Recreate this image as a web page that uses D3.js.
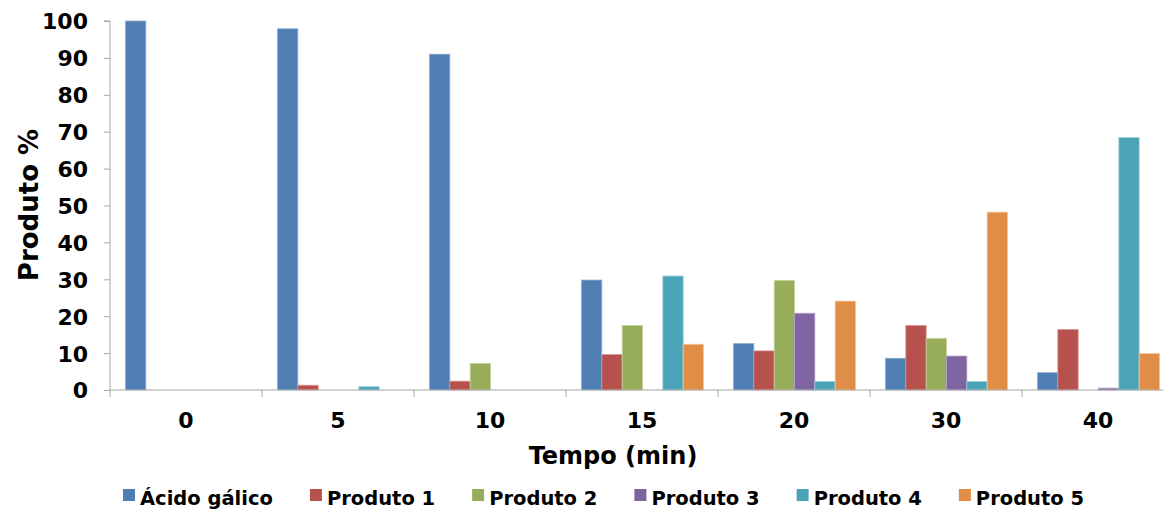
<!DOCTYPE html>
<html>
<head>
<meta charset="utf-8">
<script src="https://cdn.jsdelivr.net/npm/d3@7"></script>
<style>
  html, body { margin: 0; padding: 0; background: #fff; }
  svg { display: block; }
  text { font-family: "DejaVu Sans", sans-serif; font-weight: bold; fill: #000; }
</style>
</head>
<body>
<svg id="chart" width="1163" height="511"></svg>
<script>
// Sampling times (min)
const categories = ["0", "5", "10", "15", "20", "30", "40"];

// Relative amounts (%) at each time
const acidoGalico = [100, 97.9, 91.0, 29.8, 12.6, 8.6, 4.7];
const produto1 = [0, 1.3, 2.4, 9.6, 10.6, 17.5, 16.4];
const produto2 = [0, 0, 7.2, 17.5, 29.7, 14.0, 0];
const produto3 = [0, 0, 0, 0, 20.8, 9.2, 0.5];
const produto4 = [0, 0.9, 0, 30.9, 2.3, 2.3, 68.4];
const produto5 = [0, 0, 0, 12.4, 24.1, 48.2, 9.9];

const seriesNames = ["Ácido gálico", "Produto 1", "Produto 2", "Produto 3", "Produto 4", "Produto 5"];
const seriesValues = [acidoGalico, produto1, produto2, produto3, produto4, produto5];
const seriesColors = ["#4F7EB3", "#B7514E", "#97AD5A", "#7E64A0", "#4BA3B8", "#E08D47"];
const seriesStrokes = ["#8FAED3", "#D99593", "#C4D59E", "#B1A0C7", "#9CD0DE", "#F6C49B"];

const yTicks = [0, 10, 20, 30, 40, 50, 60, 70, 80, 90, 100];

const svg = d3.select("#chart");
const axisColor = "#A6A6A6";

const plotLeft = 110, bandW = 152, y0 = 390, y100 = 21;

const x = d3.scaleBand()
  .domain(categories)
  .range([plotLeft, plotLeft + bandW * categories.length])
  .paddingInner(0).paddingOuter(0);

const xInner = d3.scaleBand()
  .domain(seriesNames)
  .range([15.5, x.bandwidth() - 14.5])
  .padding(0);

const y = d3.scaleLinear().domain([0, 100]).range([y0, y100]);

// Bars
const groups = svg.append("g").selectAll("g")
  .data(seriesNames)
  .join("g")
  .attr("fill", (d, i) => seriesColors[i])
  .attr("stroke", (d, i) => seriesStrokes[i])
  .attr("stroke-width", 0.8);

groups.selectAll("rect")
  .data((name, i) => seriesValues[i].map((v, j) => ({ name, cat: categories[j], v })))
  .join("rect")
  .filter(d => d.v > 0)
  .attr("x", d => x(d.cat) + xInner(d.name))
  .attr("width", xInner.bandwidth())
  .attr("y", d => y(d.v))
  .attr("height", d => y(0) - y(d.v));

// Y axis
const yAxis = svg.append("g")
  .attr("transform", `translate(${plotLeft},0)`)
  .call(d3.axisLeft(y).tickValues(yTicks).tickSize(6).tickPadding(16).tickFormat(d3.format("d")));
yAxis.select(".domain").attr("stroke", axisColor).attr("d", `M-6,${y100}H0V${y0}`);
yAxis.selectAll(".tick line").attr("stroke", axisColor);
yAxis.selectAll(".tick text")
  .style("font-size", "22px")
  .attr("fill", "#000")
  .attr("dy", "0.36em");

// X axis
const xAxis = svg.append("g")
  .attr("transform", `translate(0,${y0})`)
  .call(d3.axisBottom(x).tickSize(0).tickPadding(22));
xAxis.select(".domain").attr("stroke", axisColor).attr("d", `M${plotLeft},0H1163`);
xAxis.selectAll(".tick text").style("font-size", "22px").attr("fill", "#000");

// Band separators on the x axis
svg.append("g").selectAll("line")
  .data(categories.concat(["end"]))
  .join("line")
  .attr("x1", (d, i) => plotLeft + i * x.step())
  .attr("x2", (d, i) => plotLeft + i * x.step())
  .attr("y1", y0)
  .attr("y2", y0 + 7)
  .attr("stroke", axisColor);

// Axis titles
svg.append("text")
  .attr("transform", "translate(38,205) rotate(-90)")
  .attr("text-anchor", "middle")
  .style("font-size", "26px")
  .text("Produto %");

svg.append("text")
  .attr("x", 613)
  .attr("y", 464)
  .attr("text-anchor", "middle")
  .style("font-size", "24px")
  .text("Tempo (min)");

// Legend
const legend = svg.append("g");
let lx = 123;
seriesNames.forEach((name, i) => {
  const g = legend.append("g").attr("transform", `translate(${lx},0)`);
  g.append("rect")
    .attr("x", 0).attr("y", 489)
    .attr("width", 12).attr("height", 12)
    .attr("fill", seriesColors[i]);
  const t = g.append("text")
    .attr("x", 17).attr("y", 505)
    .style("font-size", "19.5px")
    .text(name);
  lx += 17 + t.node().getComputedTextLength() + 37;
});
</script>
</body>
</html>
